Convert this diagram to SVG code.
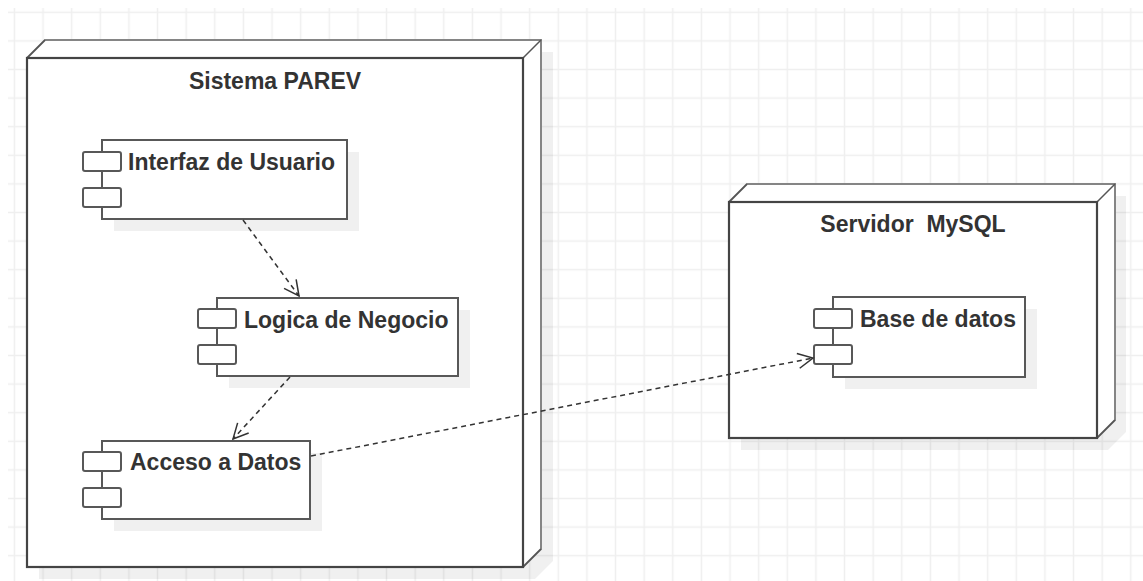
<svg xmlns="http://www.w3.org/2000/svg" width="1143" height="581" viewBox="0 0 1143 581">
  <style>
    .lbl { font-family: "Liberation Sans", Arial, sans-serif; font-size: 23px; font-weight: bold; fill: #333333; white-space: pre; }
    .title { text-anchor: middle; }
    .shadow { fill: #000000; fill-opacity: 0.06; stroke: none; }
    .back { fill: #ffffff; stroke: #858585; stroke-width: 2; stroke-linejoin: miter; }
    .diag { stroke: #555555; stroke-width: 1.5; fill: none; }
    .front { fill: #ffffff; stroke: #444444; stroke-width: 2.2; }
    .comp { fill: #ffffff; stroke: #585858; stroke-width: 2; }
    .port { fill: #ffffff; stroke: #585858; stroke-width: 2; }
    .dep { fill: none; stroke: #333333; stroke-width: 1.5; stroke-dasharray: 5 4; marker-end: url(#open); }
  </style>
  <defs>
    <pattern id="grid" patternUnits="userSpaceOnUse" x="0.1" y="-2" width="28.625" height="28.6">
      <path d="M14.3 0 V28.6 M0 14.3 H28.625" stroke="#efefef" stroke-width="1.5" fill="none"/>
    </pattern>
    <marker id="open" markerUnits="userSpaceOnUse" markerWidth="20" markerHeight="20" refX="0" refY="0" viewBox="-16 -10 20 20" orient="auto" overflow="visible">
      <path d="M-15,-7.5 L0,0 L-15,7.5" fill="none" stroke="#333333" stroke-width="1.5" stroke-dasharray="none"/>
    </marker>
  </defs>

  <rect x="0" y="0" width="1143" height="581" fill="#ffffff"/>
  <rect x="8" y="8" width="1135" height="573" fill="url(#grid)"/>

  <g id="node-sistema-parev">
    <polygon class="shadow" points="39,70 57,52 553,52 553,561 535,579 39,579"/>
    <polygon class="back" points="27,58 45,40 541,40 541,549 523,567 27,567"/>
    <path class="diag" d="M27,58 L45,40 M523,58 L541,40 M523,567 L541,549"/>
    <rect class="front" x="27" y="58" width="496" height="509"/>
    <text class="lbl title" x="275" y="89">Sistema PAREV</text>
  </g>

  <g id="comp-interfaz">
    <rect class="shadow" x="114" y="152" width="245" height="79"/>
    <rect class="comp" x="102" y="140" width="245" height="79"/>
    <rect class="port" x="83" y="152" width="38" height="19" rx="2"/>
    <rect class="port" x="83" y="188" width="38" height="19" rx="2"/>
    <text class="lbl" x="128" y="170">Interfaz de Usuario</text>
  </g>

  <g id="comp-logica">
    <rect class="shadow" x="229" y="310" width="241" height="78"/>
    <rect class="comp" x="217" y="298" width="241" height="78"/>
    <rect class="port" x="198" y="309" width="38" height="19" rx="2"/>
    <rect class="port" x="198" y="345" width="38" height="19" rx="2"/>
    <text class="lbl" x="244" y="328">Logica de Negocio</text>
  </g>

  <g id="comp-acceso">
    <rect class="shadow" x="114" y="453" width="208" height="78"/>
    <rect class="comp" x="102" y="441" width="208" height="78"/>
    <rect class="port" x="83" y="452" width="38" height="19" rx="2"/>
    <rect class="port" x="83" y="488" width="38" height="19" rx="2"/>
    <text class="lbl" x="130" y="470">Acceso a Datos</text>
  </g>

  <g id="node-servidor-mysql">
    <polygon class="shadow" points="741,214 759,196 1126,196 1126,432 1108,450 741,450"/>
    <polygon class="back" points="729,202 747,184 1115,184 1115,420 1097,438 729,438"/>
    <path class="diag" d="M729,202 L747,184 M1097,202 L1115,184 M1097,438 L1115,420"/>
    <rect class="front" x="729" y="202" width="368" height="236"/>
    <text class="lbl title" x="913" y="232">Servidor  MySQL</text>
  </g>

  <g id="comp-base-datos">
    <rect class="shadow" x="845" y="309" width="192" height="80"/>
    <rect class="comp" x="833" y="297" width="192" height="80"/>
    <rect class="port" x="814" y="309" width="38" height="19" rx="2"/>
    <rect class="port" x="814" y="345" width="38" height="19" rx="2"/>
    <text class="lbl" x="860" y="327">Base de datos</text>
  </g>

  <g id="connectors">
    <path class="dep" d="M243,220 L299,296"/>
    <path class="dep" d="M290,377 L233,439"/>
    <path class="dep" d="M311,456 L813,358"/>
  </g>
</svg>
